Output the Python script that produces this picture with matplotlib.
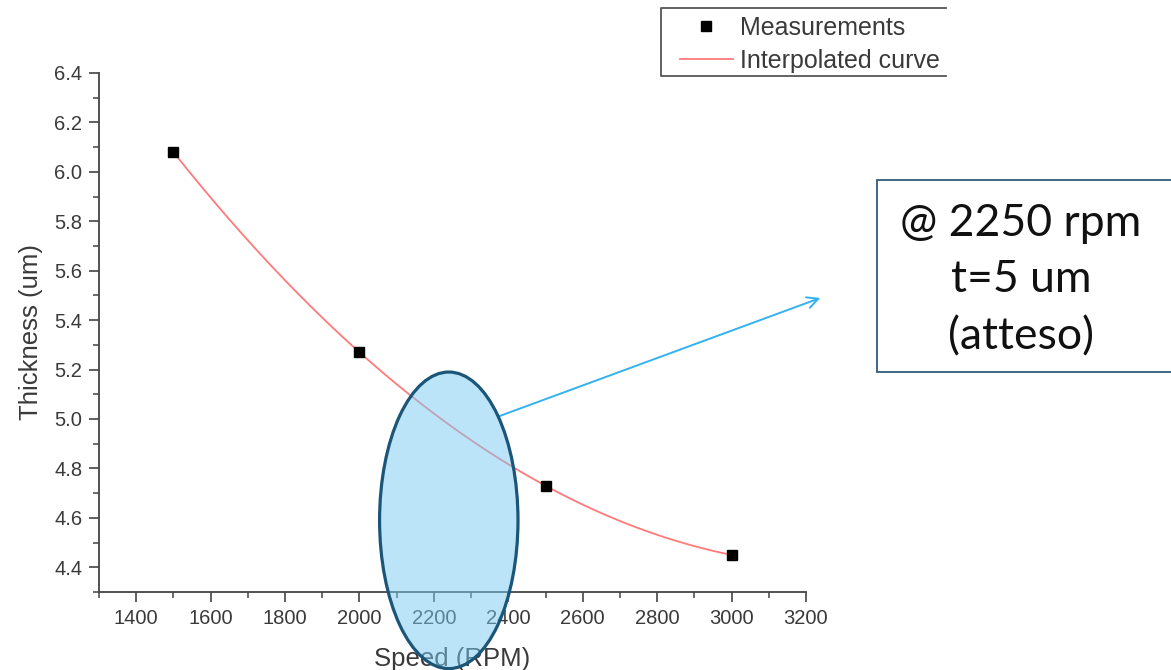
import numpy as np
import matplotlib.pyplot as plt
from matplotlib.patches import Ellipse, Rectangle
from matplotlib.lines import Line2D
from matplotlib.ticker import MultipleLocator

# measured thickness vs spin speed
speed = [1500, 2000, 2500, 3000]
thickness = [6.08, 5.27, 4.73, 4.45]

x_ticks = [1400, 1600, 1800, 2000, 2200, 2400, 2600, 2800, 3000, 3200]
y_ticks = [4.4, 4.6, 4.8, 5.0, 5.2, 5.4, 5.6, 5.8, 6.0, 6.2, 6.4]

note = "@ 2250 rpm\nt=5 um\n(atteso)"

plt.rcParams['font.family'] = ['Liberation Sans', 'DejaVu Sans']
txt = '#3a3a3a'
W, H = 1171, 670

fig = plt.figure(figsize=(11.71, 6.70), dpi=100)
ax = fig.add_axes([99 / W, 1 - 592 / H, 707 / W, 519 / H])

# cubic through the four measurements (the "interpolated curve")
coef = np.polyfit(speed, thickness, 3)
xs = np.linspace(speed[0], speed[-1], 200)
ax.plot(xs, np.polyval(coef, xs), color='#ff7a7a', lw=1.3, label='Interpolated curve', zorder=2)
ax.plot(speed, thickness, 's', color='black', ms=7, label='Measurements', zorder=3)

ax.set_xlim(1300, 3200)
ax.set_ylim(4.3, 6.4)
ax.set_xticks(x_ticks)
ax.set_yticks(y_ticks)
ax.xaxis.set_minor_locator(MultipleLocator(100))
ax.yaxis.set_minor_locator(MultipleLocator(0.1))
for s in ['top', 'right']:
    ax.spines[s].set_visible(False)
for s in ['left', 'bottom']:
    ax.spines[s].set_color('#444444')
    ax.spines[s].set_linewidth(1.3)
ax.tick_params(which='major', direction='out', length=7, width=1.2, color='#444444',
               labelsize=14.5, labelcolor=txt, pad=5)
ax.tick_params(which='minor', direction='out', length=4, width=1.1, color='#444444')
ax.set_xlabel('Speed (RPM)', fontsize=18.5, color=txt, labelpad=14)
ax.set_ylabel('Thickness (um)', fontsize=18.5, color=txt, labelpad=8)

# legend (the source image is cropped on its right side, so the frame is drawn open)
h, l = ax.get_legend_handles_labels()
leg = fig.legend(h[::-1], l[::-1], loc='upper left', bbox_to_anchor=(680 / W, 1 - 16 / H),
                 fontsize=18, frameon=False, handlelength=2.1,
                 handletextpad=0.3, borderpad=0, labelspacing=0.36, borderaxespad=0)
for t in leg.get_texts():
    t.set_color(txt)
fig.add_artist(Line2D([946 / W, 661 / W, 661 / W, 946 / W], [1 - 8 / H, 1 - 8 / H, 1 - 76 / H, 1 - 76 / H],
                      transform=fig.transFigure, color='#555555', lw=1.3))

# highlight around 2250 rpm
ell = Ellipse((2240, 4.59), 372, 1.2, facecolor='#7bcbf5', alpha=0.5, edgecolor='none',
              clip_on=False, zorder=4)
ax.add_patch(ell)
ell_edge = Ellipse((2240, 4.59), 372, 1.2, facecolor='none', edgecolor='#1b5679', lw=2.3,
                   clip_on=False, zorder=5)
ax.add_patch(ell_edge)

# arrow to the note
ax.annotate('', xy=(823 / W, 1 - 297 / H), xycoords='figure fraction',
            xytext=(497 / W, 1 - 417 / H), textcoords='figure fraction',
            arrowprops=dict(arrowstyle='->,head_length=0.8,head_width=0.4', color='#33b2ee', lw=1.4))

fig.patches.append(Rectangle((877 / W, 1 - 372 / H), 0.3, 192 / H, transform=fig.transFigure,
                             facecolor='white', edgecolor='#2f5b7c', lw=1.3))
fig.text(1021 / W, 1 - 280 / H, note, ha='center', va='center', multialignment='center',
         fontsize=32, family=['Lato', 'DejaVu Sans'], color='#111111', linespacing=1.47)

fig.savefig('out.png', dpi=100)
